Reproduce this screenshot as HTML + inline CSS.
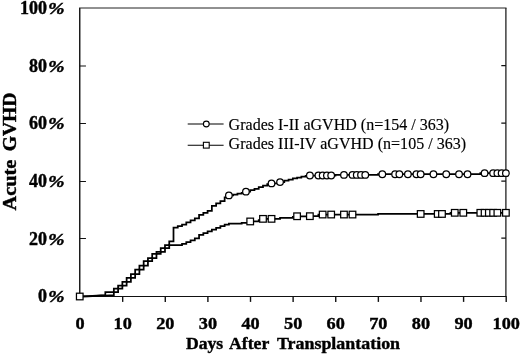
<!DOCTYPE html>
<html><head><meta charset="utf-8"><title>Acute GVHD</title>
<style>html,body{margin:0;padding:0;background:#fff}body{width:520px;height:354px;overflow:hidden}</style>
</head><body>
<svg width="520" height="354" viewBox="0 0 520 354" style="display:block">
<rect width="520" height="354" fill="#fff"/>
<g fill="none" stroke="#111" stroke-width="1.2">
<path d="M79.75 7.90 V297.10" stroke-width="1.4"/>
<path d="M79.05 296.50 H506.50" stroke-width="1.05"/>
<path d="M505.90 7.90 V297.10" stroke-width="1.2"/>
<path d="M79.05 8.00 H506.50" stroke-width="1.0" stroke="#222"/>
<path d="M79.75 238.50 h6.2 M505.90 238.10 h-4.6" stroke-width="1.05"/>
<path d="M79.75 181.50 h6.2 M505.90 181.10 h-4.6" stroke-width="1.05"/>
<path d="M79.75 123.50 h6.2 M505.90 123.10 h-4.6" stroke-width="1.05"/>
<path d="M79.75 66.00 h6.2 M505.90 65.60 h-4.6" stroke-width="1.05"/>
<path d="M122.67 296.50 v5.4" stroke-width="1.4"/>
<path d="M165.28 296.50 v5.4" stroke-width="1.4"/>
<path d="M207.90 296.50 v5.4" stroke-width="1.4"/>
<path d="M250.51 296.50 v5.4" stroke-width="1.4"/>
<path d="M293.12 296.50 v5.4" stroke-width="1.4"/>
<path d="M335.74 296.50 v5.4" stroke-width="1.4"/>
<path d="M378.36 296.50 v5.4" stroke-width="1.4"/>
<path d="M420.97 296.50 v5.4" stroke-width="1.4"/>
<path d="M463.59 296.50 v5.4" stroke-width="1.4"/>
<path d="M506.20 296.50 v5.4" stroke-width="1.4"/>
</g>
<g fill="none" stroke="#000" stroke-width="1.75" stroke-linejoin="miter">
<path d="M79.75 296.50 L84.01 296.36 L88.27 296.15 L92.53 295.92 L96.80 295.64 L101.06 295.29 H105.32 V292.18 H109.58 V292.18 H113.84 V288.72 H118.10 V285.55 H122.37 V281.81 H126.63 V277.77 H130.89 V274.03 H135.15 V269.71 H139.41 V265.67 H143.67 V261.06 H147.93 V258.18 H152.20 V253.86 H156.46 V251.84 H160.72 V248.10 H164.98 V245.22 H169.24 V241.47 H173.50 V227.64 H177.76 V226.20 H182.03 V224.62 H186.29 V222.46 H190.55 V220.44 H194.81 V218.42 H199.07 V214.97 H203.33 V212.95 H207.59 V210.93 H211.86 V205.75 H216.12 V203.44 H220.38 V201.14 H224.64 V197.39 H228.90 V195.38 H233.16 V194.51 H237.43 V193.65 H241.69 V192.78 H245.95 V191.63 H250.21 V190.19 H254.47 V188.75 H258.73 V187.02 H262.99 V185.58 H267.26 V184.14 H271.52 V183.42 H280.04 V182.12 H284.30 V180.68 H288.56 V179.53 H292.82 V178.38 H297.09 V177.51 H301.35 V176.65 H305.61 V175.79 H309.87 V175.50 H335.44 V174.92 H378.06 V174.20 H480.33 V173.19 H505.90"/>
<path d="M79.75 296.50 L84.01 296.41 L88.27 296.27 L92.53 296.10 L96.80 295.92 L101.06 295.72 L105.32 295.52 L109.58 295.35 H113.84 V292.18 H118.10 V288.72 H122.37 V285.55 H126.63 V281.81 H130.89 V277.77 H135.15 V274.03 H139.41 V269.71 H143.67 V265.67 H147.93 V261.06 H152.20 V258.18 H156.46 V253.86 H160.72 V251.84 H164.98 V248.10 H169.24 V245.22 H182.03 V243.78 H186.29 V242.05 H190.55 V240.32 H194.81 V238.30 H199.07 V234.85 H203.33 V233.12 H207.59 V231.39 H211.86 V229.66 H216.12 V227.93 H220.38 V226.20 H224.64 V224.62 H228.90 V223.61 H241.69 V222.75 H250.21 V221.45 H258.73 V220.15 H262.99 V218.86 H280.04 V217.85 H292.82 V216.98 H297.09 V216.26 H309.87 V216.18 H318.39 V214.54 H378.06 V213.96 H450.50 V212.81 H505.90"/>
</g>
<g fill="#fff" stroke="#000" stroke-width="1.25">
<circle cx="228.90" cy="195.38" r="3.3"/>
<circle cx="245.95" cy="191.63" r="3.3"/>
<circle cx="271.52" cy="183.42" r="3.3"/>
<circle cx="280.04" cy="182.12" r="3.3"/>
<circle cx="309.87" cy="175.50" r="3.3"/>
<circle cx="318.39" cy="175.50" r="3.3"/>
<circle cx="322.66" cy="175.50" r="3.3"/>
<circle cx="326.92" cy="175.50" r="3.3"/>
<circle cx="331.18" cy="175.50" r="3.3"/>
<circle cx="343.96" cy="174.92" r="3.3"/>
<circle cx="352.49" cy="174.92" r="3.3"/>
<circle cx="356.75" cy="174.92" r="3.3"/>
<circle cx="361.01" cy="174.92" r="3.3"/>
<circle cx="365.27" cy="174.92" r="3.3"/>
<circle cx="382.32" cy="174.20" r="3.3"/>
<circle cx="395.10" cy="174.20" r="3.3"/>
<circle cx="399.36" cy="174.20" r="3.3"/>
<circle cx="407.89" cy="174.20" r="3.3"/>
<circle cx="416.41" cy="174.20" r="3.3"/>
<circle cx="420.67" cy="174.20" r="3.3"/>
<circle cx="433.45" cy="174.20" r="3.3"/>
<circle cx="446.24" cy="174.20" r="3.3"/>
<circle cx="459.02" cy="174.20" r="3.3"/>
<circle cx="467.55" cy="174.20" r="3.3"/>
<circle cx="484.59" cy="173.19" r="3.3"/>
<circle cx="493.12" cy="173.19" r="3.3"/>
<circle cx="497.38" cy="173.19" r="3.3"/>
<circle cx="501.64" cy="173.19" r="3.3"/>
<circle cx="505.90" cy="173.19" r="3.3"/>
<rect x="76.45" y="293.20" width="6.6" height="6.6"/>
<rect x="246.91" y="218.15" width="6.6" height="6.6"/>
<rect x="259.69" y="215.56" width="6.6" height="6.6"/>
<rect x="268.22" y="215.56" width="6.6" height="6.6"/>
<rect x="293.79" y="212.96" width="6.6" height="6.6"/>
<rect x="306.57" y="212.88" width="6.6" height="6.6"/>
<rect x="319.36" y="211.24" width="6.6" height="6.6"/>
<rect x="327.88" y="211.24" width="6.6" height="6.6"/>
<rect x="340.66" y="211.24" width="6.6" height="6.6"/>
<rect x="349.19" y="211.24" width="6.6" height="6.6"/>
<rect x="417.37" y="210.66" width="6.6" height="6.6"/>
<rect x="434.42" y="210.66" width="6.6" height="6.6"/>
<rect x="438.68" y="210.66" width="6.6" height="6.6"/>
<rect x="451.46" y="209.51" width="6.6" height="6.6"/>
<rect x="459.99" y="209.51" width="6.6" height="6.6"/>
<rect x="477.03" y="209.51" width="6.6" height="6.6"/>
<rect x="481.29" y="209.51" width="6.6" height="6.6"/>
<rect x="485.55" y="209.51" width="6.6" height="6.6"/>
<rect x="489.82" y="209.51" width="6.6" height="6.6"/>
<rect x="494.08" y="209.51" width="6.6" height="6.6"/>
<rect x="502.60" y="209.51" width="6.6" height="6.6"/>
</g>
<g fill="#fff" stroke="#000" stroke-width="1.1">
<path d="M187.7 124 H223.6"/><circle cx="206.3" cy="124" r="2.9"/>
<path d="M187.7 145.2 H223.6"/><rect x="203.4" y="142.3" width="5.8" height="5.8"/>
</g>
<g font-family="'Liberation Serif', 'Times New Roman', serif" fill="#000">
<text x="228.6" y="129.6" font-size="16" stroke="#000" stroke-width="0.15" textLength="220.5" lengthAdjust="spacing">Grades I-II aGVHD (n=154 / 363)</text>
<text x="228.6" y="148.6" font-size="16" stroke="#000" stroke-width="0.15" textLength="237.5" lengthAdjust="spacing">Grades III-IV aGVHD (n=105 / 363)</text>
<g font-weight="bold" font-size="18" stroke="#000" stroke-width="0.4">
<text transform="translate(46.9 302.20) scale(1.0 1)" text-anchor="end">0</text><text transform="translate(48.1 302.20) scale(1.17 1)" font-size="17" font-style="italic">%</text>
<text transform="translate(46.9 244.58) scale(1.0 1)" text-anchor="end">20</text><text transform="translate(48.1 244.58) scale(1.17 1)" font-size="17" font-style="italic">%</text>
<text transform="translate(46.9 186.96) scale(1.0 1)" text-anchor="end">40</text><text transform="translate(48.1 186.96) scale(1.17 1)" font-size="17" font-style="italic">%</text>
<text transform="translate(46.9 129.34) scale(1.0 1)" text-anchor="end">60</text><text transform="translate(48.1 129.34) scale(1.17 1)" font-size="17" font-style="italic">%</text>
<text transform="translate(46.9 71.72) scale(1.0 1)" text-anchor="end">80</text><text transform="translate(48.1 71.72) scale(1.17 1)" font-size="17" font-style="italic">%</text>
<text transform="translate(46.9 14.10) scale(1.0 1)" text-anchor="end">100</text><text transform="translate(48.1 14.10) scale(1.17 1)" font-size="17" font-style="italic">%</text>
<text transform="translate(80.05 328.8) scale(1.05 1)" font-size="17.4" text-anchor="middle">0</text>
<text transform="translate(122.67 328.8) scale(1.05 1)" font-size="17.4" text-anchor="middle">10</text>
<text transform="translate(165.28 328.8) scale(1.05 1)" font-size="17.4" text-anchor="middle">20</text>
<text transform="translate(207.90 328.8) scale(1.05 1)" font-size="17.4" text-anchor="middle">30</text>
<text transform="translate(250.51 328.8) scale(1.05 1)" font-size="17.4" text-anchor="middle">40</text>
<text transform="translate(293.12 328.8) scale(1.05 1)" font-size="17.4" text-anchor="middle">50</text>
<text transform="translate(335.74 328.8) scale(1.05 1)" font-size="17.4" text-anchor="middle">60</text>
<text transform="translate(378.36 328.8) scale(1.05 1)" font-size="17.4" text-anchor="middle">70</text>
<text transform="translate(420.97 328.8) scale(1.05 1)" font-size="17.4" text-anchor="middle">80</text>
<text transform="translate(463.59 328.8) scale(1.05 1)" font-size="17.4" text-anchor="middle">90</text>
<text transform="translate(506.20 328.8) scale(1.05 1)" font-size="17.4" text-anchor="middle">100</text>
</g>
<g font-size="17.7" font-weight="bold" stroke="#000" stroke-width="0.4"><text x="185.9" y="348.8">Days</text><text x="229.0" y="348.8">After</text><text x="276.9" y="348.8" textLength="123.2" lengthAdjust="spacingAndGlyphs">Transplantation</text></g>
<g font-size="18.3" font-weight="bold" stroke="#000" stroke-width="0.4">
<text transform="translate(15.6 210.6) rotate(-90) scale(1.115 1)" text-anchor="start">Acute</text>
<text transform="translate(15.6 92.6) rotate(-90) scale(1.07 1)" text-anchor="end">GVHD</text>
</g>
</g>
</svg>
</body></html>
